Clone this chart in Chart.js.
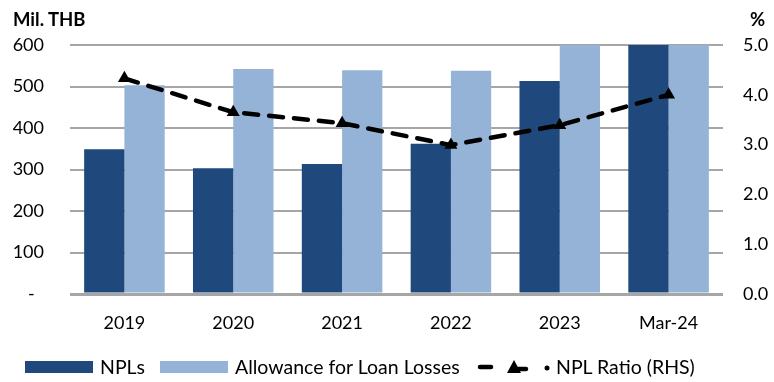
<!DOCTYPE html>
<html lang="en">
<head>
    <meta charset="utf-8" />
    <title>NPLs and Allowance</title>
    <script src="https://cdn.jsdelivr.net/npm/chart.js"></script>
    <style>
        body { margin: 0; background: #fff; font-family: Lato, sans-serif; }
        #wrap { position: relative; width: 774px; height: 382px; }
        #nplChart { position: absolute; left: 0; top: 0; }
        .unit { position: absolute; top: 8px; font-weight: bold; font-size: 18.5px; color: #000; line-height: 22px; }
        .leg { position: absolute; top: 355px; font-size: 19.5px; line-height: 24px; color: #000; white-space: nowrap; }
        .box { position: absolute; top: 361px; width: 68px; height: 12px; }
        #lineSym { position: absolute; left: 474px; top: 357px; }
    </style>
</head>
<body>
    <div id="wrap">
        <canvas id="nplChart" width="774" height="382"></canvas>
        <div class="unit" style="left:13px">Mil. THB</div>
        <div class="unit" style="left:750px">%</div>

        <span class="box" style="left:25px; background:#1f497d"></span>
        <span class="leg" style="left:100px">NPLs</span>
        <span class="box" style="left:160px; background:#95b3d7"></span>
        <span class="leg" style="left:235px">Allowance for Loan Losses</span>
        <svg id="lineSym" width="80" height="20">
            <line x1="6" y1="10" x2="17" y2="10" stroke="#000" stroke-width="4.5" stroke-linecap="round" />
            <polygon points="40,3 47,16 33,16" fill="#000" />
            <line x1="40" y1="12" x2="52" y2="12" stroke="#000" stroke-width="4.5" stroke-linecap="round" />
            <circle cx="73" cy="11" r="2.5" fill="#000" />
        </svg>
        <span class="leg" style="left:556px">NPL Ratio (RHS)</span>
    </div>

    <script>
        // data
        var categories = ['2019', '2020', '2021', '2022', '2023', 'Mar-24'];
        var nplValues = [349, 303, 313, 362, 513, 660];
        var allowanceValues = [503, 542, 539, 538, 640, 690];
        var nplRatio = [4.33, 3.65, 3.43, 2.99, 3.39, 4.0];
        var leftTicks = [0, 100, 200, 300, 400, 500, 600];
        var rightTicks = [0, 1, 2, 3, 4, 5];

        var font = { family: 'Lato, sans-serif', size: 18 };

        var ctx = document.getElementById('nplChart').getContext('2d');
        var myChart = new Chart(ctx, {
            type: 'bar',
            data: {
                labels: categories,
                datasets: [
                    {
                        type: 'line',
                        label: 'NPL Ratio (RHS)',
                        data: nplRatio,
                        yAxisID: 'y1',
                        borderColor: '#000',
                        backgroundColor: '#000',
                        borderWidth: 4.5,
                        borderDash: [14, 11],
                        borderCapStyle: 'round',
                        pointStyle: 'triangle',
                        pointRadius: 7.5,
                        pointBorderWidth: 0,
                        tension: 0,
                        order: 0
                    },
                    {
                        label: 'NPLs',
                        data: nplValues,
                        backgroundColor: '#1f497d',
                        yAxisID: 'y',
                        order: 1
                    },
                    {
                        label: 'Allowance for Loan Losses',
                        data: allowanceValues,
                        backgroundColor: '#95b3d7',
                        yAxisID: 'y',
                        order: 2
                    }
                ]
            },
            options: {
                responsive: false,
                animation: false,
                layout: { padding: { top: 45, left: 0, right: 0, bottom: 0 } },
                datasets: {
                    bar: { categoryPercentage: 0.74, barPercentage: 1.0 }
                },
                plugins: {
                    legend: { display: false },
                    tooltip: { enabled: false }
                },
                scales: {
                    x: {
                        grid: { display: false, drawTicks: false },
                        border: { display: false },
                        ticks: { color: '#000', font: font, padding: 18 },
                        afterFit: function (s) { s.height = 88; }
                    },
                    y: {
                        position: 'left',
                        min: 0,
                        max: 600,
                        afterBuildTicks: function (s) { s.ticks = leftTicks.map(function (v) { return { value: v }; }); },
                        grid: {
                            color: '#a6a6a6',
                            lineWidth: function (c) { return c.tick && c.tick.value === 0 ? 3 : 2; },
                            drawTicks: false
                        },
                        border: { display: false },
                        ticks: {
                            color: '#000',
                            font: font,
                            padding: 26,
                            callback: function (v) { return v === 0 ? '-  ' : v; }
                        },
                        afterFit: function (s) { s.width = 70; }
                    },
                    y1: {
                        position: 'right',
                        min: 0,
                        max: 5,
                        afterBuildTicks: function (s) { s.ticks = rightTicks.map(function (v) { return { value: v }; }); },
                        grid: { display: false, drawTicks: false },
                        border: { display: false },
                        ticks: {
                            color: '#000',
                            font: font,
                            padding: 20,
                            callback: function (v) { return v.toFixed(1); }
                        },
                        afterFit: function (s) { s.width = 51; }
                    }
                }
            }
        });
    </script>
</body>
</html>
